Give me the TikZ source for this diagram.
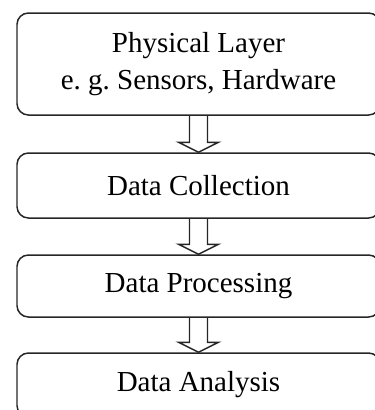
\documentclass[tikz,border=0pt]{standalone}
\usepackage{fontspec}
\setmainfont{Liberation Serif}
\usetikzlibrary{calc}

\tikzset{
  layerbox/.style={draw=black!85, line width=0.85pt, rounded corners=6.5pt,
    minimum width=363*0.02cm, align=center, inner sep=0pt,
    font=\fontsize{16.5}{21}\selectfont},
  flowarrow/.style={draw=black!85, line width=0.85pt, line join=miter}
}
% hollow block arrow from the bottom of #1 to the top of #2
\newcommand{\layerarrow}[2]{%
  \draw[flowarrow] ($(#1.south)+(-9,0)$) -- ($(#2.north)+(-9,-10)$)
    -- ($(#2.north)+(-20,-10)$) -- (#2.north) -- ($(#2.north)+(20,-10)$)
    -- ($(#2.north)+(9,-10)$) -- ($(#1.south)+(9,0)$);}

\begin{document}
\begin{tikzpicture}[x=0.02cm, y=-0.02cm]
  \useasboundingbox (0,0) rectangle (375,410);
  \clip (0,0) rectangle (375,410);
  \node[layerbox, minimum height=102*0.02cm] (phys) at (198.5,64) {Physical Layer\\e.~g.\ Sensors, Hardware};
  \node[layerbox, minimum height=65*0.02cm] (coll) at (198.5,185.5) {Data Collection};
  \node[layerbox, minimum height=62*0.02cm] (proc) at (198.5,286) {Data Processing};
  \node[layerbox, minimum height=64*0.02cm] (anal) at (198.5,385) {Data Analysis};
  \layerarrow{phys}{coll}
  \layerarrow{coll}{proc}
  \layerarrow{proc}{anal}
\end{tikzpicture}
\end{document}
